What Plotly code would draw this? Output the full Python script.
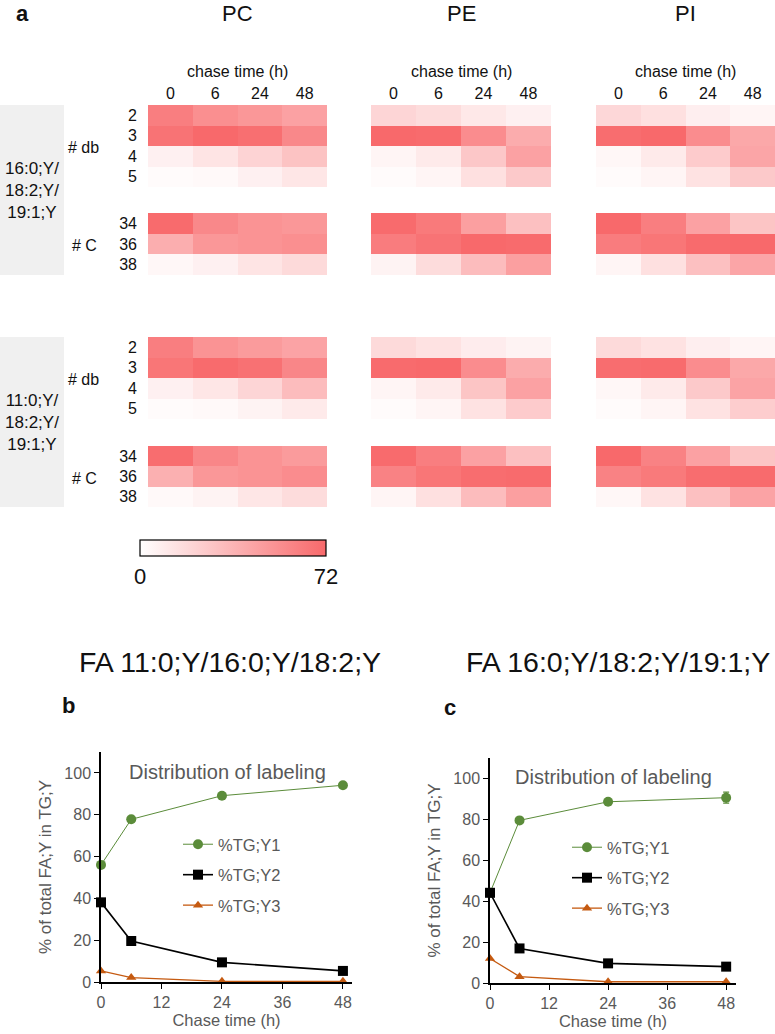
import plotly.graph_objects as go

W, H = 775, 1034
def X(px): return px / W
def Y(py): return 1 - py / H

# ---------------- data ----------------
chase_labels = ['0', '6', '24', '48']
db_labels = ['2', '3', '4', '5']
c_labels = ['34', '36', '38']
lipid_classes = ['PC', 'PE', 'PI']

# 16:0;Y/18:2;Y/19:1;Y group
pc_db_a = [[62, 54, 50, 45], [67, 72, 69, 57], [7, 13, 21, 29], [2, 3, 7, 12]]
pc_c_a = [[71, 57, 52, 50], [39, 50, 52, 54], [4, 7, 13, 18]]
pe_db_a = [[20, 17, 11, 7], [72, 71, 55, 40], [5, 10, 27, 45], [2, 5, 15, 26]]
pe_c_a = [[71, 64, 46, 30], [63, 67, 72, 71], [6, 17, 32, 46]]
pi_db_a = [[19, 15, 8, 5], [70, 72, 55, 42], [4, 10, 25, 43], [2, 5, 14, 26]]
pi_c_a = [[72, 62, 45, 28], [63, 66, 71, 72], [5, 15, 30, 43]]

# 11:0;Y/18:2;Y/19:1;Y group
pc_db_b = [[62, 52, 48, 44], [66, 71, 68, 58], [7, 12, 20, 32], [2, 3, 6, 10]]
pc_c_b = [[70, 58, 52, 48], [38, 50, 52, 55], [3, 6, 12, 17]]
pe_db_b = [[18, 14, 9, 6], [71, 72, 55, 40], [5, 10, 28, 45], [2, 5, 14, 25]]
pe_c_b = [[71, 62, 45, 30], [60, 66, 70, 71], [5, 15, 32, 46]]
pi_db_b = [[18, 14, 8, 5], [70, 71, 55, 42], [4, 10, 26, 44], [2, 5, 14, 24]]
pi_c_b = [[72, 60, 45, 28], [60, 64, 70, 71], [4, 14, 30, 44]]

group_labels = ['16:0;Y/<br>18:2;Y/<br>19:1;Y', '11:0;Y/<br>18:2;Y/<br>19:1;Y']
color_min, color_max = 0, 72

chase_h = [0, 6, 24, 48]
b_y1 = [56, 77.8, 89.1, 94.1]
b_y2 = [38.1, 19.6, 9.4, 5.3]
b_y3 = [5.3, 2.1, 0.3, 0.3]
c_y1 = [44.1, 79.5, 88.6, 90.6]
c_y2 = [44.1, 16.9, 9.6, 8.0]
c_y3 = [12.0, 3.1, 0.6, 0.6]
c_y1_err = [0, 0, 0, 2.7]
c_y2_err = [0, 0, 0, 1.5]
series_names = ['%TG;Y1', '%TG;Y2', '%TG;Y3']
x_ticks = [0, 12, 24, 36, 48]

# ---------------- layout ----------------
FONT = 'Liberation Sans, Arial, sans-serif'
GRAY = '#595959'
GREEN = '#5B8C3A'
ORANGE = '#C55A11'
INK = '#111111'

def note(text, px, py, size, color=INK, **kw):
    return dict(text=text, x=X(px), y=Y(py), xref='paper', yref='paper', showarrow=False,
                xanchor='center', yanchor='middle', font=dict(size=size, family=FONT, color=color), **kw)

fig = go.Figure()
layout = dict(
    template='none',
    width=W, height=H, margin=dict(l=0, r=0, t=0, b=0, pad=0, autoexpand=False),
    paper_bgcolor='white', plot_bgcolor='white',
    font=dict(family=FONT, color=INK),
    showlegend=True,
    coloraxis=dict(
        cmin=color_min, cmax=color_max,
        colorscale=[[0, '#FFFFFF'], [1, '#F8696B']],
        colorbar=dict(
            orientation='h', x=X(233), xanchor='center', y=Y(540), yanchor='top',
            len=186, lenmode='pixels', thickness=16, thicknessmode='pixels',
            outlinewidth=1.2, outlinecolor='black', xpad=0, ypad=0,
            tickvals=[color_min, color_max], ticktext=[str(color_min), str(color_max)],
            ticks='', tickfont=dict(size=22, family=FONT, color=INK),
            ticklabelposition='outside bottom',
        ),
    ),
    annotations=[], shapes=[],
)

class_x = {'PC': (148, 327), 'PE': (371, 551), 'PI': (596, 775)}
block_y = [((105, 187), (213, 275)), ((337, 419), (446, 507))]
data_sets = [
    {'PC': (pc_db_a, pc_c_a), 'PE': (pe_db_a, pe_c_a), 'PI': (pi_db_a, pi_c_a)},
    {'PC': (pc_db_b, pc_c_b), 'PE': (pe_db_b, pe_c_b), 'PI': (pi_db_b, pi_c_b)},
]

n = 0
for g in range(2):
    for cls in lipid_classes:
        x0, x1 = class_x[cls]
        for part in range(2):
            n += 1
            z = data_sets[g][cls][part]
            rows = db_labels if part == 0 else c_labels
            y0, y1 = block_y[g][part]
            xa = 'x' if n == 1 else f'x{n}'
            ya = 'y' if n == 1 else f'y{n}'
            fig.add_trace(go.Heatmap(
                z=z, x=chase_labels, y=rows, coloraxis='coloraxis',
                xaxis=xa, yaxis=ya, showlegend=False,
            ))
            show_x = (g == 0 and part == 0)
            layout['xaxis' if n == 1 else f'xaxis{n}'] = dict(
                domain=[X(x0), min(X(x1), 1.0)], anchor=ya, type='category',
                side='top', showticklabels=show_x, ticks='', showgrid=False,
                zeroline=False, showline=False, fixedrange=True, automargin=False,
                tickfont=dict(size=16, family=FONT, color=INK),
                ticklabelstandoff=2,
            )
            layout['yaxis' if n == 1 else f'yaxis{n}'] = dict(
                domain=[Y(y1), Y(y0)], anchor=xa, type='category',
                autorange='reversed', showticklabels=(cls == 'PC'), ticks='',
                showgrid=False, zeroline=False, showline=False, fixedrange=True,
                automargin=False,
                tickfont=dict(size=16, family=FONT, color=INK),
                ticklabelstandoff=10,
            )

# gray group boxes and labels
for g in range(2):
    top = block_y[g][0][0]
    bot = block_y[g][1][1]
    layout['shapes'].append(dict(type='rect', xref='paper', yref='paper',
                                 x0=X(0), x1=X(64), y0=Y(bot), y1=Y(top),
                                 fillcolor='#F0F0F0', line=dict(width=0), layer='below'))
    layout['annotations'].append(note(group_labels[g], 32, (top + bot) / 2, 17))
    layout['annotations'].append(note('# db', 83, block_y[g][0][0] + 42, 16))
    layout['annotations'].append(note('# C', 84, block_y[g][1][0] + 32, 16))

# class titles and chase time labels
for cls in lipid_classes:
    x0, x1 = class_x[cls]
    cx = (x0 + min(x1, 776)) / 2
    layout['annotations'].append(note(cls, cx, 13, 22))
    layout['annotations'].append(note('chase time (h)', cx, 71, 16))

# panel letters
for letter, px, py in [('a', 22, 14), ('b', 68, 705), ('c', 450, 707)]:
    layout['annotations'].append(note(f'<b>{letter}</b>', px, py, 22))

# line chart titles
layout['annotations'].append(note('FA 11:0;Y/16:0;Y/18:2;Y', 230, 662, 28.5))
layout['annotations'].append(note('FA 16:0;Y/18:2;Y/19:1;Y', 618, 662, 28.5))

# ---------------- line charts ----------------
def add_lines(xn, leg, ys, errs):
    xa, ya = f'x{xn}', f'y{xn}'
    specs = [(GREEN, 'circle', 10, 1.0), ('black', 'square', 10, 1.6), (ORANGE, 'triangle-up', 9, 1.3)]
    for i, (col, sym, size, lw) in enumerate(specs):
        err = errs[i]
        fig.add_trace(go.Scatter(
            x=chase_h, y=ys[i], name=series_names[i], mode='lines+markers',
            line=dict(color=col, width=lw), marker=dict(color=col, symbol=sym, size=size, line=dict(width=0)),
            error_y=(dict(type='data', array=err, visible=True, color=col, thickness=1.2, width=3)
                     if err is not None else None),
            xaxis=xa, yaxis=ya, legend=leg, legendgroup=f'{leg}{i}', cliponaxis=False,
        ))

add_lines(13, 'legend', [b_y1, b_y2, b_y3], [None, None, None])
add_lines(14, 'legend2', [c_y1, c_y2, c_y3], [c_y1_err, c_y2_err, None])

def line_axes(xn, xdom, ydom, xmax):
    ax = dict(showline=True, linecolor='black', linewidth=1.5, ticks='outside', ticklen=5,
              tickcolor='black', tickwidth=1.2, showgrid=False, zeroline=False, fixedrange=True,
              automargin=False, tickfont=dict(size=16, family=FONT, color=GRAY))
    layout[f'xaxis{xn}'] = dict(ax, domain=[X(xdom[0]), X(xdom[1])], anchor=f'y{xn}',
                                range=[0, xmax], tickvals=x_ticks,
                                title=dict(text='Chase time (h)', standoff=2,
                                           font=dict(size=16.5, family=FONT, color=GRAY)))
    layout[f'yaxis{xn}'] = dict(ax, domain=[Y(ydom[1]), Y(ydom[0])], anchor=f'x{xn}',
                                range=[0, 110], tickvals=[0, 20, 40, 60, 80, 100],
                                title=dict(text='% of total FA;Y in TG;Y', standoff=8,
                                           font=dict(size=17, family=FONT, color=GRAY)))

line_axes(13, (101, 352), (752, 982), 49.8)
line_axes(14, (490, 736), (758, 983), 50.0)

leg_common = dict(xanchor='left', yanchor='top', bgcolor='rgba(0,0,0,0)', borderwidth=0,
                  font=dict(size=16.5, family=FONT, color=GRAY), tracegroupgap=6,
                  traceorder='grouped', itemclick=False, itemdoubleclick=False)
layout['legend'] = dict(leg_common, x=X(178), y=Y(827))
layout['legend2'] = dict(leg_common, x=X(567), y=Y(830))

layout['annotations'].append(note('Distribution of labeling', 227, 772, 20, GRAY))
layout['annotations'].append(note('Distribution of labeling', 613, 777, 20, GRAY))

fig.update_layout(layout)
# drop the browser's default 8px page margin so the figure sits at the window origin
fig.write_html('out.html', config={'displayModeBar': False},
               post_script="document.body.style.margin='0';")
